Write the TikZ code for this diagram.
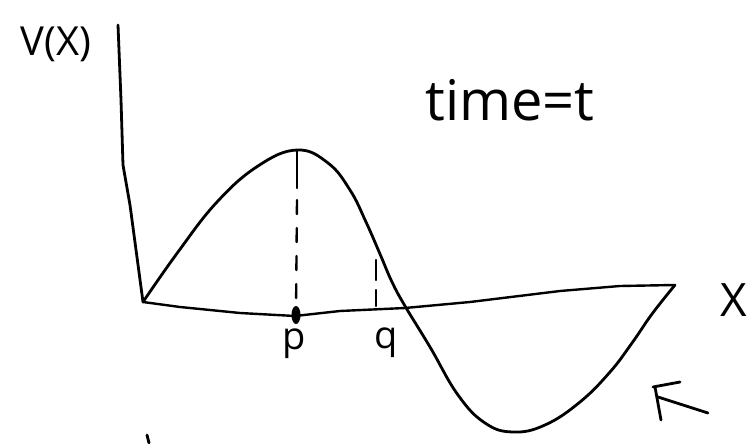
\documentclass[tikz,border=0pt]{standalone}
\usepackage{fontspec}
\setmainfont{Open Sans}
\begin{document}
\begin{tikzpicture}[x=1pt,y=-1pt,
  ink/.style={line width=2.8pt,line cap=round,line join=round},
  thin ink/.style={line width=2.4pt,line cap=round,line join=round},
  hand/.style={font=\fontsize{40}{42}\selectfont\fontseries{l}\selectfont,inner sep=0pt}]
\useasboundingbox[fill=white] (0,0) rectangle (752,444);
% axes
\coordinate (O) at (143,302);
\coordinate (ytop) at (118,25);
\coordinate (xend) at (675,285);
\draw[ink] (ytop) -- (121,100) -- (123,165) -- (130,205) -- (O);
\draw[thin ink] (O) -- (180,307) -- (240,313) -- (295,316) -- (340,311) -- (405,308) -- (470,302) -- (560,291) -- (620,286) -- (xend);
% curve
\draw[ink] plot[smooth,tension=0.7] coordinates {(143,302) (178,252) (217,202) (258,166) (297,150) (328,163) (350,190) (366,222) (380,254) (392,282) (405,306) (430,347) (458,395) (485,423) (513,432) (545,425) (580,402) (610,372) (632,343) (652,314) (xend)};
% dashed drops
\coordinate (peak) at (297,150);
\coordinate (P) at (296,315);
\draw[thin ink] (peak) -- (297,188);
\draw[thin ink,dash pattern=on 14pt off 14pt] (297,200) -- (P);
\coordinate (qtop) at (376,260);
\coordinate (Q) at (376,306);
\draw[thin ink,dash pattern=on 20pt off 10pt] (qtop) -- (Q);
\fill (P) ellipse (4.5pt and 9pt);
% labels
\node[hand] (lV) at (56,44) {V(X)};
\node[hand,font=\fontsize{46}{48}\selectfont\fontseries{l}\selectfont] (lX) at (734,300) {X};
\node[hand,font=\fontsize{56}{58}\selectfont\fontseries{l}\selectfont] (lT) at (510,100) {time=t};
\node[hand,font=\fontsize{38}{40}\selectfont\fontseries{l}\selectfont] (lp) at (294,344) {p};
\node[hand,font=\fontsize{38}{40}\selectfont\fontseries{l}\selectfont] (lq) at (386,343) {q};
% small mark
\draw[ink] (653,387) -- (680,382);
\draw[ink] (655,387) -- (661,420);
\draw[ink] (658,397) -- (708,413);
\draw[ink] (147,435) -- (149,443);
\end{tikzpicture}
\end{document}
